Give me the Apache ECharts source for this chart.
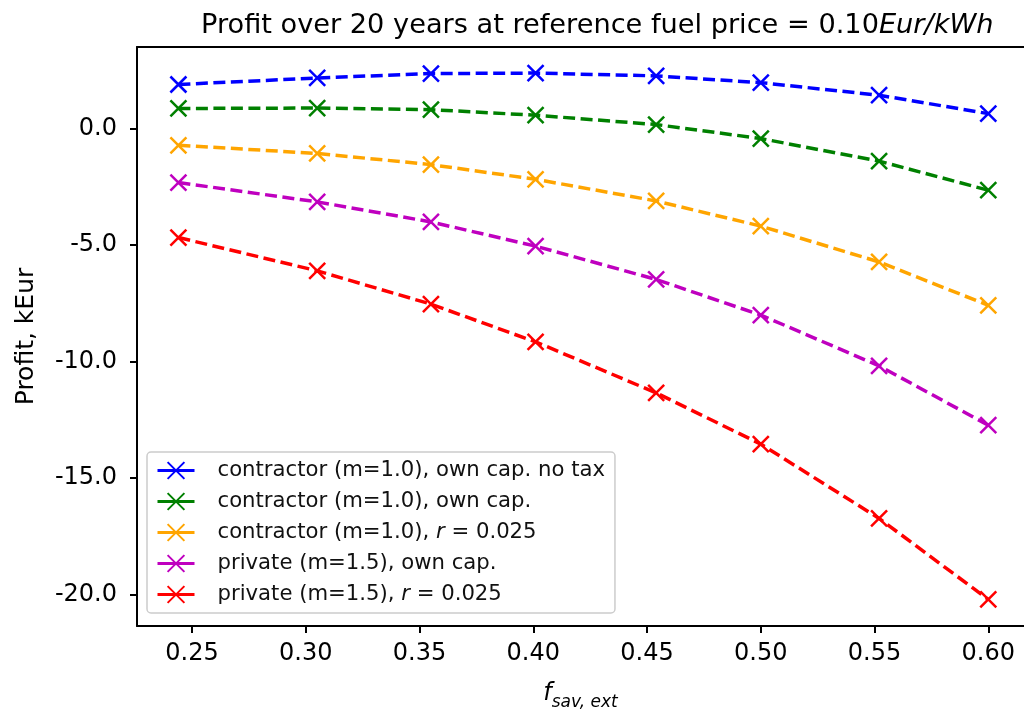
<!DOCTYPE html>
<html>
<head>
<meta charset="utf-8">
<script src="https://cdn.jsdelivr.net/npm/echarts@6/dist/echarts.min.js"></script>
<style>
  html, body { margin: 0; padding: 0; background: #fff; }
  #chart { width: 1024px; height: 711px; }
</style>
</head>
<body>
<div id="chart"></div>
<script>
// Savings fraction f_sav,ext on the horizontal axis
const fSav = [0.244, 0.305, 0.355, 0.401, 0.454, 0.500, 0.552, 0.600];

// Profit over 20 years, kEur
const contractorNoTax = [1.90, 2.18, 2.37, 2.39, 2.27, 1.98, 1.44, 0.65];
const contractorOwnCap = [0.87, 0.89, 0.82, 0.58, 0.18, -0.42, -1.39, -2.64];
const contractorLoan = [-0.71, -1.06, -1.54, -2.17, -3.10, -4.18, -5.72, -7.58];
const privateOwnCap = [-2.31, -3.14, -4.00, -5.04, -6.47, -8.00, -10.18, -12.73];
const privateLoan = [-4.67, -6.10, -7.53, -9.15, -11.34, -13.54, -16.73, -20.21];

const seriesNames = [
  'contractor (m=1.0), own cap. no tax',
  'contractor (m=1.0), own cap.',
  'contractor (m=1.0), {i|r} = 0.025',
  'private (m=1.5), own cap.',
  'private (m=1.5), {i|r} = 0.025'
];
const seriesColors = ['#0000ff', '#008000', '#ffa500', '#bf00bf', '#ff0000'];
const seriesValues = [contractorNoTax, contractorOwnCap, contractorLoan, privateOwnCap, privateLoan];

const xTicks = [0.25, 0.30, 0.35, 0.40, 0.45, 0.50, 0.55, 0.60];
const yTicks = [0, -5, -10, -15, -20];

const FONT = 'DejaVu Sans';
const CROSS = 'path://M0,0L10,10M10,0L0,10';
const X_MIN = 0.2258;
const X_MAX = 0.6157;

const chart = echarts.init(document.getElementById('chart'), null, { renderer: 'canvas' });

const series = seriesValues.map((vals, k) => ({
  name: seriesNames[k],
  type: 'line',
  xAxisIndex: 0,
  data: fSav.map((x, i) => [x, vals[i]]),
  symbol: CROSS,
  symbolSize: 16,
  showAllSymbol: true,
  lineStyle: { color: seriesColors[k], width: 3.5, type: [12, 5.5], cap: 'butt' },
  itemStyle: { color: seriesColors[k], borderColor: seriesColors[k], borderWidth: 2.5 },
  emphasis: { disabled: true },
  animation: false,
  z: 2
}));

chart.setOption({
  animation: false,
  backgroundColor: '#ffffff',
  title: {
    text: '{n|Profit over 20 years at reference fuel price = 0.10}{i|Eur/kWh}',
    left: 196,
    top: 7,
    textStyle: {
      fontWeight: 'normal',
      rich: {
        n: { fontFamily: FONT, fontSize: 27.2, fontWeight: 'normal', color: '#000' },
        i: { fontFamily: FONT, fontSize: 27.2, fontWeight: 'normal', fontStyle: 'italic', color: '#000' }
      }
    }
  },
  grid: {
    left: 137,
    top: 47,
    right: 0,
    bottom: 85,
    outerBoundsMode: 'none',
    containLabel: false,
    show: false
  },
  legend: {
    left: 147,
    top: 452,
    orient: 'vertical',
    itemGap: 10,
    itemWidth: 37,
    itemHeight: 21,
    padding: [8, 10, 8, 9],
    backgroundColor: 'rgba(255,255,255,0.85)',
    borderColor: '#cccccc',
    borderWidth: 1.5,
    borderRadius: 4,
    lineStyle: { type: 'solid', width: 3 },
    selectedMode: false,
    textStyle: {
      fontFamily: FONT,
      fontSize: 21.2,
      color: '#111',
      padding: [0, 0, 0, 18],
      rich: { i: { fontFamily: FONT, fontSize: 21.2, fontStyle: 'italic', color: '#111' } }
    },
    data: seriesNames
  },
  xAxis: [{
    type: 'value',
    position: 'bottom',
    min: X_MIN,
    max: X_MAX,
    name: '{f|f}{s|sav, ext}',
    nameLocation: 'middle',
    nameGap: 56,
    nameTextStyle: {
      rich: {
        f: { fontFamily: FONT, fontSize: 24, fontStyle: 'italic', color: '#000', verticalAlign: 'bottom' },
        s: { fontFamily: FONT, fontSize: 17, fontStyle: 'italic', color: '#000', verticalAlign: 'bottom', padding: [0, 0, -5, 0] }
      }
    },
    splitLine: { show: false },
    axisLine: { show: true, onZero: false, lineStyle: { color: '#000', width: 2 } },
    axisTick: { show: true, inside: false, length: 7, customValues: xTicks, lineStyle: { color: '#000', width: 2 } },
    axisLabel: {
      customValues: xTicks,
      margin: 16,
      fontFamily: FONT,
      fontSize: 24,
      color: '#000',
      formatter: v => v.toFixed(2)
    }
  }, {
    // top spine of the plotting frame
    type: 'value',
    position: 'top',
    min: X_MIN,
    max: X_MAX,
    splitLine: { show: false },
    axisLine: { show: true, onZero: false, lineStyle: { color: '#000', width: 2 } },
    axisTick: { show: false },
    axisLabel: { show: false }
  }],
  yAxis: {
    type: 'value',
    min: -21.35,
    max: 3.51,
    name: 'Profit, kEur',
    nameLocation: 'middle',
    nameRotate: 90,
    nameGap: 98,
    nameTextStyle: { fontFamily: FONT, fontSize: 25, color: '#000' },
    splitLine: { show: false },
    axisLine: { show: true, onZero: false, lineStyle: { color: '#000', width: 2 } },
    axisTick: { show: true, inside: false, length: 7, customValues: yTicks, lineStyle: { color: '#000', width: 2 } },
    axisLabel: {
      customValues: yTicks,
      margin: 20,
      fontFamily: FONT,
      fontSize: 24,
      color: '#000',
      formatter: v => v.toFixed(1)
    }
  },
  series: series
});
</script>
</body>
</html>
